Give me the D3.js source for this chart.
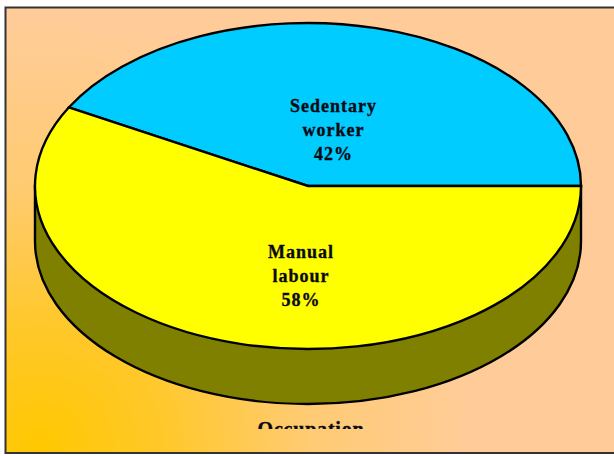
<!DOCTYPE html>
<html>
<head>
<meta charset="utf-8">
<script src="https://cdn.jsdelivr.net/npm/d3@7"></script>
<style>
  html, body { margin: 0; padding: 0; background: #fff; }
  svg { display: block; }
  text { font-family: "Liberation Serif", serif; font-weight: bold; fill: #0a0a14; stroke: #0a0a14; stroke-width: 0.35; text-anchor: middle; }
</style>
</head>
<body>
<script>
// Occupation split of respondents
const categories = ["Sedentary worker", "Manual labour"];
const shares = [42, 58];
const labelLines = [["Sedentary", "worker", "42%"], ["Manual", "labour", "58%"]];
const sliceColors = ["#00ccff", "#ffff00"];
const wallColor = "#808000";
const chartTitle = "Occupation";

const width = 614, height = 456;
const cx = 308, cy = 186, rx = 273, ry = 163, depth = 55;
const squash = ry / rx;

const svg = d3.select("body").append("svg").attr("width", width).attr("height", height);
const defs = svg.append("defs");

// Backdrop glow spreading out of the lower-left corner
const glow = defs.append("radialGradient").attr("id", "glow")
  .attr("gradientUnits", "userSpaceOnUse")
  .attr("cx", 40).attr("cy", 450).attr("r", 430);
glow.append("stop").attr("offset", 0).attr("stop-color", "#ffc800");
glow.append("stop").attr("offset", 0.3).attr("stop-color", "#ffc82c");
glow.append("stop").attr("offset", 0.62).attr("stop-color", "#ffcb72");
glow.append("stop").attr("offset", 1).attr("stop-color", "#ffcc99");

// The title is cut off by the lower edge of the plot window
defs.append("clipPath").attr("id", "titleClip")
  .append("rect").attr("x", 0).attr("y", 0).attr("width", width).attr("height", 429);

svg.append("rect").attr("x", 5.5).attr("y", 7.5)
  .attr("width", width + 10).attr("height", 445.5)
  .attr("fill", "url(#glow)").attr("stroke", "#333").attr("stroke-width", 2);

// Side wall: lower half of the rim, extruded downward
const wallPath = d3.path();
wallPath.moveTo(cx - rx, cy);
wallPath.lineTo(cx - rx, cy + depth);
wallPath.bezierCurveTo(cx - rx, cy + depth + ry * 0.5523, cx - rx * 0.5523, cy + depth + ry, cx, cy + depth + ry);
wallPath.bezierCurveTo(cx + rx * 0.5523, cy + depth + ry, cx + rx, cy + depth + ry * 0.5523, cx + rx, cy + depth);
wallPath.lineTo(cx + rx, cy);
wallPath.closePath();
svg.append("path").attr("d", wallPath.toString())
  .attr("fill", wallColor).attr("stroke", "#000").attr("stroke-width", 2.4);

// Slices, starting at three o'clock and running anticlockwise
const pie = d3.pie().sort(null).startAngle(Math.PI / 2).endAngle(Math.PI / 2 - 2 * Math.PI);
const arcs = pie(shares);
const arc = d3.arc().innerRadius(0).outerRadius(rx);

svg.append("g").attr("transform", `translate(${cx},${cy}) scale(1,${squash})`)
  .selectAll("path").data(arcs).join("path")
  .attr("d", arc)
  .attr("fill", (d, i) => sliceColors[i])
  .attr("stroke", "#000").attr("stroke-width", 2.4)
  .attr("vector-effect", "non-scaling-stroke")
  .append("title").text((d, i) => categories[i]);

// Slice labels, three centred lines each
const labelTops = [112, 258];
const lineStep = 24;
labelLines.forEach((lines, i) => {
  const anchorX = i === 0 ? 333.5 : 301;
  svg.append("text").attr("font-size", 18).attr("letter-spacing", 1)
    .selectAll("tspan").data(lines).join("tspan")
    .attr("x", anchorX)
    .attr("y", (d, j) => labelTops[i] + j * lineStep)
    .text(d => d);
});

svg.append("text").attr("x", 311).attr("y", 436).attr("font-size", 20).attr("letter-spacing", 0.8)
  .attr("clip-path", "url(#titleClip)").text(chartTitle);
</script>
</body>
</html>
